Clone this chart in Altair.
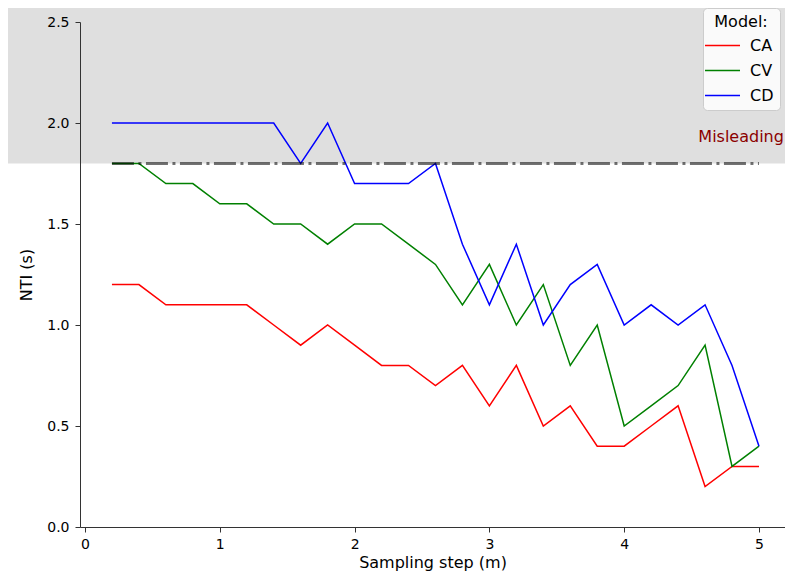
import altair as alt
import pandas as pd

steps = [0.2, 0.4, 0.6, 0.8, 1.0, 1.2, 1.4, 1.6, 1.8, 2.0, 2.2, 2.4, 2.6,
         2.8, 3.0, 3.2, 3.4, 3.6, 3.8, 4.0, 4.2, 4.4, 4.6, 4.8, 5.0]
ca = [1.2, 1.2, 1.1, 1.1, 1.1, 1.1, 1.0, 0.9, 1.0, 0.9, 0.8, 0.8, 0.7,
      0.8, 0.6, 0.8, 0.5, 0.6, 0.4, 0.4, 0.5, 0.6, 0.2, 0.3, 0.3]
cv = [1.8, 1.8, 1.7, 1.7, 1.6, 1.6, 1.5, 1.5, 1.4, 1.5, 1.5, 1.4, 1.3,
      1.1, 1.3, 1.0, 1.2, 0.8, 1.0, 0.5, 0.6, 0.7, 0.9, 0.3, 0.4]
cd = [2.0, 2.0, 2.0, 2.0, 2.0, 2.0, 2.0, 1.8, 2.0, 1.7, 1.7, 1.7, 1.8,
      1.4, 1.1, 1.4, 1.0, 1.2, 1.3, 1.0, 1.1, 1.0, 1.1, 0.8, 0.4]
models = ["CA", "CV", "CD"]
colors = ["red", "green", "blue"]
threshold = 1.8
shade_top = 2.6
x_domain = [-0.037, 5.193]
y_domain = [0.0, 2.5]
x_ticks = [0, 1, 2, 3, 4, 5]
y_ticks = [0.0, 0.5, 1.0, 1.5, 2.0, 2.5]
label_text = "Misleading"
label_x = 5.185
label_y = 1.93

rows = []
for m, vals in zip(models, [ca, cv, cd]):
    for s, v in zip(steps, vals):
        rows.append({"step": s, "NTI": v, "Model": m})
df = pd.DataFrame(rows)

xs = alt.Scale(domain=x_domain, nice=False, zero=False)
ys = alt.Scale(domain=y_domain, nice=False)

shade_df = pd.DataFrame({"x": [-0.571], "x2": [x_domain[1]], "y": [threshold], "y2": [shade_top]})
shade = alt.Chart(shade_df).mark_rect(color="#dfdfdf", clip=False).encode(
    x=alt.X("x:Q", scale=xs, axis=alt.Axis(values=x_ticks, format="d", zindex=2),
            title="Sampling step (m)"),
    x2="x2:Q",
    y=alt.Y("y:Q", scale=ys, axis=alt.Axis(values=y_ticks, format=".1f", zindex=2),
            title="NTI (s)"),
    y2="y2:Q")

lines = alt.Chart(df).mark_line(strokeWidth=1.5).encode(
    x=alt.X("step:Q", scale=xs),
    y=alt.Y("NTI:Q", scale=ys),
    color=alt.Color("Model:N", sort=models,
                    scale=alt.Scale(domain=models, range=colors),
                    legend=alt.Legend(title="Model:", orient="none",
                                      legendX=623, legendY=-14)),
)

rule_df = pd.DataFrame({"x": [steps[0]], "x2": [steps[-1]], "y": [threshold]})
rule = alt.Chart(rule_df).mark_rule(color="black", opacity=0.55, strokeWidth=3,
                                    strokeDash=[22, 4.5, 3, 4.5]).encode(
    x=alt.X("x:Q", scale=xs), x2="x2:Q", y=alt.Y("y:Q", scale=ys))

text_df = pd.DataFrame({"x": [label_x], "y": [label_y], "t": [label_text]})
text = alt.Chart(text_df).mark_text(color="#8b0000", fontSize=16, align="right",
                                    baseline="middle", font="DejaVu Sans").encode(
    x=alt.X("x:Q", scale=xs), y=alt.Y("y:Q", scale=ys), text="t:N")

chart = alt.layer(shade, lines, rule, text).properties(
    width=705, height=505,
    autosize=alt.AutoSizeParams(type="none"),
    padding={"left": 72, "top": 14, "right": 0, "bottom": 46},
).configure_view(stroke=None).configure_axis(
    grid=False, domainColor="#333333", tickColor="#333333", tickSize=5,
    labelFont="DejaVu Sans", labelFontSize=14, labelColor="black",
    titleFont="DejaVu Sans", titleFontSize=16, titleFontWeight="normal", titleColor="black",
).configure_axisY(labelPadding=6, titlePadding=12).configure_axisX(
    labelPadding=5, titlePadding=3
).configure_legend(
    fillColor="rgba(255,255,255,0.85)", strokeColor="#cccccc", cornerRadius=4,
    padding=6, titleFont="DejaVu Sans", titleFontSize=16, titleFontWeight="normal",
    titleColor="black", titleAnchor="middle", titlePadding=2,
    labelFont="DejaVu Sans", labelFontSize=16, labelColor="black", labelOffset=14,
    symbolType="M-1.4,0H1.4", symbolSize=625, symbolStrokeWidth=1.5, rowPadding=3,
)

chart.save("out.html", embed_options={"renderer": "svg", "actions": False})
